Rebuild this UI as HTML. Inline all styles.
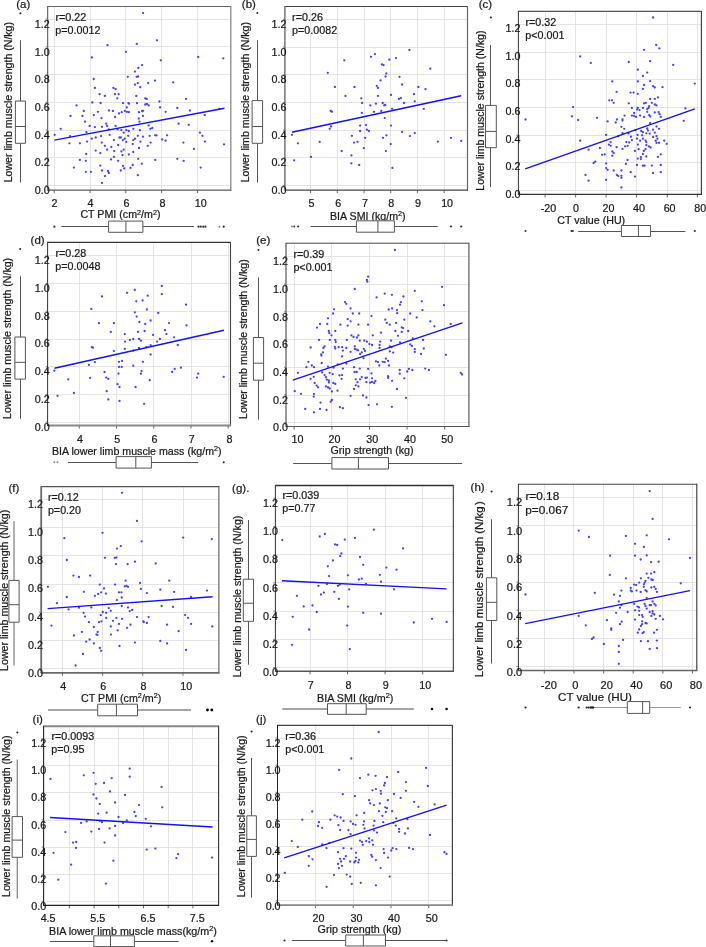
<!DOCTYPE html>
<html lang="en"><head><meta charset="utf-8"><title>Correlation of lower limb muscle strength with muscle indices</title>
<style>html,body{margin:0;padding:0;background:#fff}svg{display:block;will-change:transform}svg text{stroke:#1a1a1a;stroke-width:.22px}</style></head>
<body>
<svg width="706" height="947" viewBox="0 0 706 947" font-family="'Liberation Sans', Arial, sans-serif" fill="#1a1a1a">
<rect width="706" height="947" fill="#fff" stroke="none"/>
<g id="panel-a">
<path d="M47.6 185.5H230.8M47.6 157.5H230.8M47.6 130.5H230.8M47.6 102.5H230.8M47.6 74.5H230.8M47.6 46.5H230.8M47.6 19.5H230.8M54.5 6.5V190.2M90.5 6.5V190.2M125.5 6.5V190.2M161.5 6.5V190.2M197.5 6.5V190.2" stroke="#e4e4e4" stroke-width="1" fill="none"/>
<path d="M107.6 45.2h0M91.8 57.5h0M93.7 79.0h0M94.9 87.9h0M113.4 87.9h0M115.6 89.2h0M99.6 94.2h0M104.9 95.9h0M114.9 94.2h0M118.6 94.2h0M117.3 98.3h0M92.3 102.5h0M100.6 103.0h0M76.5 105.4h0M83.8 111.0h0M109.0 110.5h0M112.9 111.0h0M97.9 111.8h0M119.0 113.5h0M70.5 115.9h0M82.4 115.9h0M93.8 115.1h0M101.5 118.1h0M115.1 117.0h0M85.0 121.7h0M89.6 125.9h0M94.9 127.1h0M102.0 126.8h0M106.2 123.7h0M107.1 125.9h0M115.6 125.9h0M60.7 128.8h0M54.7 134.8h0M70.0 136.1h0M86.4 132.2h0M108.8 129.3h0M117.6 129.3h0M109.6 134.8h0M101.1 136.1h0M95.7 137.5h0M91.8 138.7h0M87.0 141.6h0M79.9 143.3h0M69.4 143.3h0M101.7 142.6h0M113.9 140.1h0M119.5 137.5h0M104.9 145.8h0M111.3 146.9h0M118.1 145.0h0M107.1 149.7h0M95.7 150.6h0M100.3 153.1h0M114.2 151.1h0M86.2 154.0h0M113.9 156.9h0M111.0 159.4h0M79.9 159.9h0M85.8 160.8h0M118.1 160.8h0M100.3 165.6h0M73.9 167.6h0M102.0 170.5h0M107.9 171.0h0M108.8 173.0h0M85.8 171.8h0M90.9 171.8h0M104.9 176.1h0M102.0 182.9h0M143.1 13.1h0M156.9 40.3h0M136.8 43.9h0M125.9 51.8h0M198.2 56.9h0M223.3 58.3h0M160.8 60.3h0M142.1 65.1h0M138.4 68.0h0M135.0 71.6h0M127.8 76.8h0M136.7 76.8h0M138.0 76.5h0M155.0 80.6h0M173.2 82.3h0M148.2 83.1h0M137.8 83.1h0M135.0 84.7h0M140.2 87.2h0M136.3 95.9h0M145.2 98.3h0M146.7 98.9h0M186.0 98.9h0M159.4 101.5h0M123.1 103.2h0M128.5 103.2h0M129.0 103.7h0M137.0 103.2h0M145.2 104.5h0M146.9 104.0h0M148.6 105.4h0M126.8 107.4h0M160.1 107.4h0M177.3 107.9h0M219.4 108.8h0M124.8 110.8h0M121.7 112.2h0M126.8 111.8h0M128.8 112.2h0M139.0 112.2h0M142.1 111.0h0M142.9 111.0h0M165.6 111.8h0M189.9 110.5h0M204.8 115.2h0M142.9 115.9h0M138.7 118.5h0M139.5 121.7h0M178.6 123.7h0M188.8 124.8h0M148.6 125.4h0M152.3 128.0h0M150.3 128.8h0M133.3 128.8h0M121.4 130.2h0M126.3 130.2h0M128.8 131.0h0M139.9 130.2h0M123.7 132.7h0M199.9 132.7h0M202.4 135.8h0M128.2 135.8h0M137.8 135.8h0M142.9 136.7h0M149.7 135.8h0M155.2 135.3h0M156.5 135.3h0M167.1 135.3h0M120.8 137.5h0M124.8 138.7h0M135.0 138.7h0M133.3 140.1h0M122.9 140.1h0M162.2 139.5h0M165.6 140.7h0M126.3 141.8h0M140.4 141.6h0M150.6 142.6h0M183.4 142.6h0M205.0 141.6h0M224.0 144.3h0M132.7 144.1h0M147.7 145.8h0M139.0 148.0h0M193.9 148.9h0M123.7 149.7h0M121.4 151.4h0M133.3 152.0h0M122.5 155.2h0M128.8 154.5h0M138.2 158.8h0M155.2 159.9h0M177.3 158.8h0M183.7 160.8h0M141.8 163.7h0M132.7 165.0h0M123.1 165.9h0M130.5 167.9h0M124.2 168.4h0M120.8 170.5h0M200.7 167.6h0M137.8 175.2h0" stroke="#2e2eff" stroke-width="2.3" stroke-linecap="round" fill="none" opacity="0.9"/>
<path d="M54.4 140.1L224.5 108.3" stroke="#1212f2" stroke-width="1.4" fill="none"/>
<path d="M47.6 6.5H230.8" stroke="#666" stroke-width="1.1" fill="none"/>
<path d="M230.8 6.0V190.8" stroke="#888" stroke-width="1.3" fill="none"/>
<path d="M54.2 190.2v3M90.0 190.2v3M125.8 190.2v3M161.6 190.2v3M197.4 190.2v3" stroke="#666" stroke-width="1" fill="none"/>
<path d="M47.6 185.6h-2M47.6 157.9h-2M47.6 130.1h-2M47.6 102.4h-2M47.6 74.7h-2M47.6 46.9h-2M47.6 19.2h-2" stroke="#777" stroke-width="1" fill="none"/>
<path d="M47.6 190.2H231.3" stroke="#5a5a5a" stroke-width="1.3" fill="none"/>
<path d="M47.6 6.0V190.8" stroke="#6c6c6c" stroke-width="1.3" fill="none"/>
<text transform="translate(49.7,193.9) scale(1.075,1)" font-size="10.0" text-anchor="end">0.0</text>
<text transform="translate(49.7,166.3) scale(1.075,1)" font-size="10.0" text-anchor="end">0.2</text>
<text transform="translate(49.7,138.6) scale(1.075,1)" font-size="10.0" text-anchor="end">0.4</text>
<text transform="translate(49.7,111.0) scale(1.075,1)" font-size="10.0" text-anchor="end">0.6</text>
<text transform="translate(49.7,83.4) scale(1.075,1)" font-size="10.0" text-anchor="end">0.8</text>
<text transform="translate(49.7,55.8) scale(1.075,1)" font-size="10.0" text-anchor="end">1.0</text>
<text transform="translate(49.7,28.2) scale(1.075,1)" font-size="10.0" text-anchor="end">1.2</text>
<text transform="translate(54.4,206.8) scale(1.075,1)" font-size="10.0" text-anchor="middle">2</text>
<text transform="translate(90.4,206.8) scale(1.075,1)" font-size="10.0" text-anchor="middle">4</text>
<text transform="translate(126.5,206.8) scale(1.075,1)" font-size="10.0" text-anchor="middle">6</text>
<text transform="translate(162.5,206.8) scale(1.075,1)" font-size="10.0" text-anchor="middle">8</text>
<text transform="translate(200.7,206.8) scale(1.075,1)" font-size="10.0" text-anchor="middle">10</text>
<text transform="translate(80.4,218.3) scale(1.0464,1)" font-size="10.2" text-anchor="start">CT PMI (cm<tspan font-size="6.94" dy="-3.67">2</tspan><tspan dy="3.67">/m</tspan><tspan font-size="6.94" dy="-3.67">2</tspan><tspan dy="3.67">)</tspan></text>
<text transform="translate(11.6,182.3) rotate(-90) scale(1.0379,1)" font-size="10.2" text-anchor="start">Lower limb muscle strength (N/kg)</text>
<text transform="translate(16.2,8.1) scale(1.075,1)" font-size="10.7" text-anchor="start">(a)</text>
<text transform="translate(55.4,21.2) scale(1.075,1)" font-size="10.0" text-anchor="start">r=0.22</text>
<text transform="translate(55.3,33.8) scale(1.075,1)" font-size="10.0" text-anchor="start">p=0.0012</text>
<path d="M20.5 40.3V101.0M20.5 143.3V182.6" stroke="#555" stroke-width="1.0" fill="none"/>
<path d="M15.4 101.0H25.4V143.3H15.4ZM15.4 126.5H25.4" stroke="#555" stroke-width="1" fill="#fff"/>
<circle cx="20.4" cy="13.3" r="1.0" fill="#222"/>
<path d="M61.2 226.5H108.6M142.9 226.5H193.9" stroke="#555" stroke-width="1.0" fill="none"/>
<path d="M108.6 221.1H142.9V232.3H108.6ZM125.9 221.1V232.3" stroke="#555" stroke-width="1" fill="#fff"/>
<circle cx="54.4" cy="226.7" r="1.10" fill="#333" opacity="1"/>
<circle cx="198.5" cy="226.7" r="1.10" fill="#333" opacity="1"/>
<circle cx="200.7" cy="226.7" r="1.10" fill="#333" opacity="1"/>
<circle cx="203.3" cy="226.7" r="1.10" fill="#333" opacity="1"/>
<circle cx="205.5" cy="226.7" r="1.10" fill="#333" opacity="1"/>
<circle cx="219.4" cy="226.7" r="0.94" fill="#333" opacity="0.6"/>
<circle cx="223.7" cy="226.7" r="1.10" fill="#333" opacity="1"/>
</g>
<g id="panel-b">
<path d="M284.9 185.5H467.5M284.9 157.5H467.5M284.9 130.5H467.5M284.9 102.5H467.5M284.9 74.5H467.5M284.9 47.5H467.5M284.9 19.5H467.5M310.5 6.5V190.2M337.5 6.5V190.2M364.5 6.5V190.2M390.5 6.5V190.2M417.5 6.5V190.2M444.5 6.5V190.2" stroke="#e4e4e4" stroke-width="1" fill="none"/>
<path d="M344.3 60.3h0M327.8 72.8h0M334.9 87.0h0M354.5 87.0h0M345.5 95.9h0M330.7 111.0h0M331.9 111.8h0M409.4 50.0h0M374.9 54.1h0M371.0 56.8h0M396.0 58.1h0M389.3 59.7h0M381.9 64.4h0M383.6 65.1h0M430.3 68.7h0M386.3 73.4h0M385.6 76.5h0M399.5 76.8h0M380.5 80.4h0M402.1 84.5h0M376.8 85.8h0M377.9 87.9h0M418.4 87.0h0M425.5 89.2h0M414.0 94.2h0M391.0 94.9h0M377.9 95.9h0M361.3 98.3h0M400.9 98.1h0M398.9 98.9h0M414.8 101.3h0M362.1 103.0h0M404.0 103.0h0M382.7 103.0h0M375.9 103.7h0M370.3 105.4h0M384.2 105.4h0M385.3 104.9h0M392.1 108.8h0M423.8 108.8h0M381.3 111.0h0M374.0 111.8h0M361.8 112.9h0M384.7 118.1h0M331.0 126.5h0M329.7 128.8h0M291.9 134.8h0M351.9 135.8h0M354.0 142.6h0M297.9 143.3h0M319.7 141.8h0M341.7 151.1h0M351.4 155.4h0M311.0 156.9h0M294.2 160.3h0M351.4 163.3h0M360.1 125.6h0M366.0 125.1h0M391.0 125.6h0M366.9 129.7h0M368.9 131.0h0M360.1 131.0h0M402.1 131.9h0M414.8 133.1h0M386.4 135.3h0M409.9 136.1h0M365.2 137.8h0M383.0 137.8h0M451.0 137.8h0M357.5 141.8h0M437.8 141.6h0M461.2 140.9h0M390.7 144.1h0M363.8 148.2h0M385.9 151.1h0M359.2 165.0h0M392.4 167.9h0" stroke="#2e2eff" stroke-width="2.3" stroke-linecap="round" fill="none" opacity="0.9"/>
<path d="M291.9 132.2L461.2 95.7" stroke="#1212f2" stroke-width="1.4" fill="none"/>
<path d="M284.9 6.5H467.5" stroke="#444" stroke-width="1.1" fill="none"/>
<path d="M467.5 6.0V190.7" stroke="#666" stroke-width="1.2" fill="none"/>
<path d="M310.6 190.2v3M337.3 190.2v3M364.0 190.2v3M390.7 190.2v3M417.4 190.2v3M444.1 190.2v3" stroke="#666" stroke-width="1" fill="none"/>
<path d="M284.9 185.7h-2M284.9 158.0h-2M284.9 130.2h-2M284.9 102.5h-2M284.9 74.8h-2M284.9 47.0h-2M284.9 19.3h-2" stroke="#777" stroke-width="1" fill="none"/>
<path d="M284.9 190.2H468.0" stroke="#444" stroke-width="1.2" fill="none"/>
<path d="M284.9 6.0V190.8" stroke="#555" stroke-width="1.2" fill="none"/>
<text transform="translate(286.4,193.9) scale(1.075,1)" font-size="10.0" text-anchor="end">0.0</text>
<text transform="translate(286.4,166.3) scale(1.075,1)" font-size="10.0" text-anchor="end">0.2</text>
<text transform="translate(286.4,138.6) scale(1.075,1)" font-size="10.0" text-anchor="end">0.4</text>
<text transform="translate(286.4,111.0) scale(1.075,1)" font-size="10.0" text-anchor="end">0.6</text>
<text transform="translate(286.4,83.4) scale(1.075,1)" font-size="10.0" text-anchor="end">0.8</text>
<text transform="translate(286.4,55.8) scale(1.075,1)" font-size="10.0" text-anchor="end">1.0</text>
<text transform="translate(286.4,28.2) scale(1.075,1)" font-size="10.0" text-anchor="end">1.2</text>
<text transform="translate(311.5,206.8) scale(1.075,1)" font-size="10.0" text-anchor="middle">5</text>
<text transform="translate(338.2,206.8) scale(1.075,1)" font-size="10.0" text-anchor="middle">6</text>
<text transform="translate(364.9,206.8) scale(1.075,1)" font-size="10.0" text-anchor="middle">7</text>
<text transform="translate(391.2,206.8) scale(1.075,1)" font-size="10.0" text-anchor="middle">8</text>
<text transform="translate(417.9,206.8) scale(1.075,1)" font-size="10.0" text-anchor="middle">9</text>
<text transform="translate(447.1,206.8) scale(1.075,1)" font-size="10.0" text-anchor="middle">10</text>
<text transform="translate(330.0,219.7) scale(1.0452,1)" font-size="10.2" text-anchor="start">BIA SMI (kg/m<tspan font-size="6.94" dy="-3.67">2</tspan><tspan dy="3.67">)</tspan></text>
<text transform="translate(248.6,182.3) rotate(-90) scale(1.0379,1)" font-size="10.2" text-anchor="start">Lower limb muscle strength (N/kg)</text>
<text transform="translate(241.8,8.3) scale(1.075,1)" font-size="10.7" text-anchor="start">(b)</text>
<text transform="translate(292.1,20.8) scale(1.075,1)" font-size="10.0" text-anchor="start">r=0.26</text>
<text transform="translate(292.0,33.6) scale(1.075,1)" font-size="10.0" text-anchor="start">p=0.0082</text>
<path d="M257.5 40.3V100.6M257.5 143.3V182.6" stroke="#555" stroke-width="1.0" fill="none"/>
<path d="M252.1 100.6H262.6V143.3H252.1ZM252.1 126.5H262.6" stroke="#555" stroke-width="1" fill="#fff"/>
<circle cx="257.3" cy="13.1" r="1.0" fill="#222"/>
<path d="M310.6 226.5H356.4M394.4 226.5H437.8" stroke="#555" stroke-width="1.0" fill="none"/>
<path d="M356.4 220.8H394.4V232.2H356.4ZM377.9 220.8V232.2" stroke="#555" stroke-width="1" fill="#fff"/>
<circle cx="291.9" cy="226.5" r="0.94" fill="#333" opacity="0.6"/>
<circle cx="294.2" cy="226.5" r="0.99" fill="#333" opacity="1"/>
<circle cx="298.2" cy="226.5" r="1.10" fill="#333" opacity="1"/>
<circle cx="451.0" cy="226.5" r="1.10" fill="#333" opacity="1"/>
<circle cx="461.2" cy="226.5" r="1.10" fill="#333" opacity="1"/>
</g>
<g id="panel-c">
<path d="M518.4 190.5H701.4M518.4 162.5H701.4M518.4 135.5H701.4M518.4 107.5H701.4M518.4 79.5H701.4M518.4 52.5H701.4M518.4 24.5H701.4M545.5 11.4V194.4M575.5 11.4V194.4M606.5 11.4V194.4M636.5 11.4V194.4M667.5 11.4V194.4M697.5 11.4V194.4" stroke="#e4e4e4" stroke-width="1" fill="none"/>
<path d="M580.2 56.4h0M573.1 107.1h0M571.9 116.4h0M525.5 119.5h0M578.2 120.0h0M653.1 17.5h0M656.2 44.9h0M659.4 48.4h0M644.1 49.8h0M650.1 61.2h0M628.8 62.0h0M590.8 62.9h0M673.2 64.9h0M637.8 69.7h0M647.2 72.6h0M642.9 76.0h0M612.3 81.4h0M637.8 81.4h0M650.1 81.1h0M694.8 83.6h0M644.1 85.0h0M653.1 86.2h0M654.8 87.5h0M662.5 87.2h0M642.9 88.9h0M616.6 91.8h0M630.5 92.6h0M633.6 92.6h0M637.8 93.8h0M657.9 97.4h0M650.1 98.9h0M654.8 98.9h0M609.3 100.3h0M612.0 100.3h0M613.7 102.8h0M628.8 103.3h0M644.1 103.3h0M645.8 102.8h0M651.8 102.8h0M654.8 104.5h0M656.5 105.4h0M649.2 106.2h0M631.9 107.9h0M637.8 107.9h0M642.9 107.9h0M648.6 107.9h0M685.4 108.4h0M637.0 109.6h0M639.5 110.1h0M647.2 109.1h0M647.2 111.8h0M634.1 113.0h0M654.8 112.5h0M658.6 112.2h0M659.6 114.2h0M631.9 115.6h0M634.1 115.9h0M636.1 116.9h0M640.1 115.6h0M644.1 116.9h0M649.2 115.2h0M650.3 116.4h0M624.6 115.6h0M660.8 116.9h0M597.0 117.8h0M616.9 119.5h0M622.5 119.5h0M580.2 140.7h0M585.5 174.9h0M607.6 121.4h0M615.7 122.5h0M622.5 120.5h0M650.1 123.1h0M683.7 120.8h0M621.4 126.8h0M624.2 128.8h0M635.3 130.2h0M656.5 126.5h0M659.1 128.8h0M653.1 129.7h0M647.2 128.5h0M648.0 130.5h0M641.2 131.0h0M642.9 132.2h0M646.3 133.3h0M649.7 133.6h0M654.8 132.7h0M622.5 133.1h0M628.5 133.6h0M637.5 135.0h0M642.1 135.3h0M606.1 135.0h0M618.3 136.1h0M631.0 136.7h0M653.1 137.0h0M656.5 136.1h0M637.0 138.7h0M642.9 138.7h0M657.4 138.7h0M631.9 140.1h0M640.1 140.7h0M645.5 140.4h0M655.7 140.7h0M664.2 140.7h0M610.6 142.1h0M626.3 142.1h0M629.3 142.4h0M646.3 142.1h0M656.5 142.9h0M659.1 142.9h0M666.7 143.8h0M608.9 144.6h0M610.6 145.8h0M637.8 144.6h0M646.3 145.2h0M625.1 146.3h0M627.6 145.8h0M648.9 146.3h0M650.6 147.5h0M599.9 148.0h0M616.6 147.2h0M622.5 148.9h0M588.5 149.7h0M638.7 149.2h0M645.5 149.2h0M635.0 150.9h0M643.8 150.9h0M612.3 151.4h0M613.7 153.1h0M642.9 154.0h0M602.1 154.8h0M604.7 154.3h0M612.3 155.7h0M660.8 154.3h0M646.3 156.5h0M640.9 157.1h0M657.9 156.9h0M637.8 158.6h0M640.9 159.1h0M627.6 159.9h0M595.3 161.6h0M593.6 163.0h0M606.1 163.3h0M625.9 163.9h0M637.0 165.0h0M642.9 165.6h0M644.6 165.6h0M651.8 165.6h0M660.8 165.0h0M606.1 168.1h0M607.6 169.8h0M613.7 170.5h0M621.4 170.5h0M630.7 172.2h0M660.8 172.2h0M653.1 173.0h0M616.9 174.9h0M618.3 176.1h0M621.4 175.8h0M621.4 177.8h0M635.0 176.6h0M588.5 180.7h0M606.1 179.8h0M621.4 187.5h0" stroke="#2e2eff" stroke-width="2.3" stroke-linecap="round" fill="none" opacity="0.9"/>
<path d="M525.2 168.8L694.8 108.8" stroke="#1212f2" stroke-width="1.4" fill="none"/>
<path d="M518.4 11.4H701.4" stroke="#555" stroke-width="1.2" fill="none"/>
<path d="M701.4 10.9V194.9" stroke="#444" stroke-width="1.2" fill="none"/>
<path d="M545.1 194.4v3M575.6 194.4v3M606.1 194.4v3M636.5 194.4v3M667.3 194.4v3M697.4 194.4v3" stroke="#666" stroke-width="1" fill="none"/>
<path d="M518.4 190.6h-2M518.4 162.9h-2M518.4 135.2h-2M518.4 107.5h-2M518.4 79.8h-2M518.4 52.1h-2M518.4 24.4h-2" stroke="#777" stroke-width="1" fill="none"/>
<path d="M518.4 194.4H701.9" stroke="#333" stroke-width="1.1" fill="none"/>
<path d="M518.4 10.9V195.0" stroke="#333" stroke-width="1.0" fill="none"/>
<text transform="translate(520.4,198.2) scale(1.075,1)" font-size="10.0" text-anchor="end">0.0</text>
<text transform="translate(520.4,170.4) scale(1.075,1)" font-size="10.0" text-anchor="end">0.2</text>
<text transform="translate(520.4,142.7) scale(1.075,1)" font-size="10.0" text-anchor="end">0.4</text>
<text transform="translate(520.4,115.0) scale(1.075,1)" font-size="10.0" text-anchor="end">0.6</text>
<text transform="translate(520.4,87.2) scale(1.075,1)" font-size="10.0" text-anchor="end">0.8</text>
<text transform="translate(520.4,59.5) scale(1.075,1)" font-size="10.0" text-anchor="end">1.0</text>
<text transform="translate(520.4,31.8) scale(1.075,1)" font-size="10.0" text-anchor="end">1.2</text>
<text transform="translate(548.5,211.5) scale(1.075,1)" font-size="10.0" text-anchor="middle">-20</text>
<text transform="translate(576.0,211.5) scale(1.075,1)" font-size="10.0" text-anchor="middle">0</text>
<text transform="translate(608.4,211.5) scale(1.075,1)" font-size="10.0" text-anchor="middle">20</text>
<text transform="translate(639.0,211.5) scale(1.075,1)" font-size="10.0" text-anchor="middle">40</text>
<text transform="translate(669.6,211.5) scale(1.075,1)" font-size="10.0" text-anchor="middle">60</text>
<text transform="translate(700.2,211.5) scale(1.075,1)" font-size="10.0" text-anchor="middle">80</text>
<text transform="translate(557.3,224.2) scale(1.045,1)" font-size="10.2" text-anchor="start">CT value (HU)</text>
<text transform="translate(483.9,190.7) rotate(-90) scale(1.0366,1)" font-size="10.2" text-anchor="start">Lower limb muscle strength (N/kg)</text>
<text transform="translate(478.7,8.1) scale(1.075,1)" font-size="10.7" text-anchor="start">(c)</text>
<text transform="translate(525.4,25.6) scale(1.075,1)" font-size="10.0" text-anchor="start">r=0.32</text>
<text transform="translate(525.3,38.7) scale(1.075,1)" font-size="10.0" text-anchor="start">p<0.001</text>
<path d="M490.5 45.0V105.4M490.5 147.7V187.1" stroke="#555" stroke-width="1.0" fill="none"/>
<path d="M485.5 105.4H496.3V147.7H485.5ZM485.5 131.4H496.3" stroke="#555" stroke-width="1" fill="#fff"/>
<circle cx="490.9" cy="17.5" r="1.0" fill="#222"/>
<path d="M578.2 231.5H621.4M650.6 231.5H685.4" stroke="#555" stroke-width="1.0" fill="none"/>
<path d="M621.4 225.5H650.6V236.5H621.4ZM638.4 225.5V236.5" stroke="#555" stroke-width="1" fill="#fff"/>
<circle cx="525.5" cy="231.0" r="0.99" fill="#333" opacity="1"/>
<circle cx="571.5" cy="231.0" r="1.10" fill="#333" opacity="1"/>
<circle cx="572.8" cy="231.0" r="1.10" fill="#333" opacity="1"/>
<circle cx="694.8" cy="231.0" r="1.10" fill="#333" opacity="1"/>
</g>
<g id="panel-d">
<path d="M47.6 422.5H230.5M47.6 394.5H230.5M47.6 366.5H230.5M47.6 339.5H230.5M47.6 311.5H230.5M47.6 283.5H230.5M47.6 255.5H230.5M79.5 242.3V425.5M116.5 242.3V425.5M153.5 242.3V425.5M191.5 242.3V425.5M228.5 242.3V425.5" stroke="#e4e4e4" stroke-width="1" fill="none"/>
<path d="M102.0 296.5h0M91.3 308.9h0M98.9 323.2h0M113.9 323.2h0M110.8 331.9h0M91.8 347.2h0M93.0 347.7h0M113.9 351.1h0M161.8 286.0h0M134.8 289.9h0M127.1 292.8h0M161.8 294.2h0M147.7 295.7h0M142.6 300.4h0M136.3 301.3h0M186.0 304.7h0M146.9 309.5h0M134.8 312.3h0M158.2 312.9h0M136.7 316.6h0M150.6 320.5h0M139.4 322.0h0M145.2 323.9h0M169.0 323.1h0M186.5 325.4h0M165.0 330.2h0M144.6 331.0h0M138.0 331.9h0M124.8 334.1h0M166.4 334.1h0M153.1 334.9h0M174.1 337.3h0M133.3 339.0h0M129.9 339.9h0M139.0 339.0h0M159.9 339.0h0M125.1 341.6h0M140.9 340.7h0M157.1 341.6h0M150.6 345.1h0M177.8 345.0h0M146.3 347.2h0M139.0 348.0h0M124.8 348.9h0M133.3 350.6h0M150.6 354.5h0M94.9 362.1h0M88.9 364.9h0M119.0 361.8h0M119.0 366.9h0M54.4 370.6h0M104.5 372.0h0M118.5 373.7h0M68.3 379.3h0M90.1 377.9h0M106.2 377.6h0M108.3 378.8h0M117.6 384.2h0M119.5 387.0h0M106.7 391.2h0M73.9 392.9h0M57.5 395.8h0M108.3 399.5h0M119.5 400.9h0M122.0 360.9h0M142.9 361.8h0M121.7 366.9h0M133.3 365.7h0M180.9 367.7h0M174.7 368.9h0M172.2 372.0h0M141.6 371.1h0M140.9 373.7h0M198.2 373.7h0M197.0 377.6h0M223.7 376.8h0M149.7 380.2h0M135.6 387.0h0M144.1 403.8h0" stroke="#2e2eff" stroke-width="2.3" stroke-linecap="round" fill="none" opacity="0.9"/>
<path d="M54.4 368.3L224.0 330.2" stroke="#1212f2" stroke-width="1.4" fill="none"/>
<path d="M47.6 242.3H230.5" stroke="#333" stroke-width="1.2" fill="none"/>
<path d="M230.5 241.8V426.0" stroke="#444" stroke-width="1.1" fill="none"/>
<path d="M79.3 425.5v3M116.5 425.5v3M153.7 425.5v3M191.0 425.5v3M228.2 425.5v3" stroke="#666" stroke-width="1" fill="none"/>
<path d="M47.6 422.1h-2M47.6 394.4h-2M47.6 366.7h-2M47.6 339.0h-2M47.6 311.3h-2M47.6 283.6h-2M47.6 255.9h-2" stroke="#777" stroke-width="1" fill="none"/>
<path d="M47.6 425.5H231.0" stroke="#888" stroke-width="1.8" fill="none"/>
<path d="M47.6 241.8V426.1" stroke="#333" stroke-width="1.0" fill="none"/>
<text transform="translate(49.7,430.5) scale(1.075,1)" font-size="10.0" text-anchor="end">0.0</text>
<text transform="translate(49.7,402.7) scale(1.075,1)" font-size="10.0" text-anchor="end">0.2</text>
<text transform="translate(49.7,375.0) scale(1.075,1)" font-size="10.0" text-anchor="end">0.4</text>
<text transform="translate(49.7,347.3) scale(1.075,1)" font-size="10.0" text-anchor="end">0.6</text>
<text transform="translate(49.7,319.5) scale(1.075,1)" font-size="10.0" text-anchor="end">0.8</text>
<text transform="translate(49.7,291.8) scale(1.075,1)" font-size="10.0" text-anchor="end">1.0</text>
<text transform="translate(49.7,264.1) scale(1.075,1)" font-size="10.0" text-anchor="end">1.2</text>
<text transform="translate(79.9,442.6) scale(1.075,1)" font-size="10.0" text-anchor="middle">4</text>
<text transform="translate(117.3,442.6) scale(1.075,1)" font-size="10.0" text-anchor="middle">5</text>
<text transform="translate(154.5,442.6) scale(1.075,1)" font-size="10.0" text-anchor="middle">6</text>
<text transform="translate(191.7,442.6) scale(1.075,1)" font-size="10.0" text-anchor="middle">7</text>
<text transform="translate(229.6,442.6) scale(1.075,1)" font-size="10.0" text-anchor="middle">8</text>
<text transform="translate(51.9,455.0) scale(1.0447,1)" font-size="10.2" text-anchor="start">BIA lower limb muscle mass (kg/m<tspan font-size="6.94" dy="-3.67">2</tspan><tspan dy="3.67">)</tspan></text>
<text transform="translate(11.1,418.9) rotate(-90) scale(1.0411,1)" font-size="10.2" text-anchor="start">Lower limb muscle strength (N/kg)</text>
<text transform="translate(30.6,243.6) scale(1.075,1)" font-size="10.7" text-anchor="start">(d)</text>
<text transform="translate(55.4,257.2) scale(1.075,1)" font-size="10.0" text-anchor="start">r=0.28</text>
<text transform="translate(55.3,269.9) scale(1.075,1)" font-size="10.0" text-anchor="start">p=0.0048</text>
<path d="M20.5 276.3V337.0M20.5 379.1V418.7" stroke="#555" stroke-width="1.0" fill="none"/>
<path d="M14.9 337.0H25.4V379.1H14.9ZM14.9 362.3H25.4" stroke="#555" stroke-width="1" fill="#fff"/>
<circle cx="20.2" cy="249.1" r="1.0" fill="#222"/>
<path d="M68.0 462.5H116.1M151.4 462.5H198.2" stroke="#555" stroke-width="1.0" fill="none"/>
<path d="M116.1 456.6H151.4V468.1H116.1ZM135.8 456.6V468.1" stroke="#555" stroke-width="1" fill="#fff"/>
<circle cx="54.4" cy="462.3" r="0.94" fill="#333" opacity="0.6"/>
<circle cx="57.5" cy="462.3" r="0.94" fill="#333" opacity="0.6"/>
<circle cx="223.7" cy="462.3" r="1.10" fill="#333" opacity="1"/>
</g>
<g id="panel-e">
<path d="M286.0 422.5H468.9M286.0 395.5H468.9M286.0 367.5H468.9M286.0 339.5H468.9M286.0 311.5H468.9M286.0 284.5H468.9M286.0 256.5H468.9M294.5 243.2V426.5M331.5 243.2V426.5M369.5 243.2V426.5M407.5 243.2V426.5M444.5 243.2V426.5" stroke="#e4e4e4" stroke-width="1" fill="none"/>
<path d="M354.8 289.0h0M345.0 302.1h0M346.3 303.8h0M334.1 309.3h0M350.6 308.4h0M333.1 313.5h0M352.8 313.5h0M328.0 318.3h0M347.7 319.1h0M350.6 321.3h0M320.0 323.9h0M327.3 323.9h0M340.4 324.7h0M347.7 325.6h0M316.9 327.6h0M328.8 331.0h0M329.3 333.2h0M335.3 331.0h0M331.5 335.3h0M351.4 335.3h0M353.5 337.0h0M319.1 339.9h0M329.8 339.9h0M335.3 339.9h0M335.8 342.1h0M346.8 339.9h0M310.6 347.5h0M324.6 346.3h0M323.4 348.0h0M334.8 346.8h0M335.3 348.5h0M338.7 347.2h0M342.1 347.2h0M342.9 350.6h0M346.3 348.0h0M354.8 346.3h0M354.8 348.9h0M350.6 351.8h0M322.9 352.3h0M321.2 354.5h0M394.9 250.0h0M368.1 276.6h0M366.9 280.0h0M367.4 281.7h0M442.0 286.8h0M414.8 290.8h0M384.7 293.6h0M391.9 294.8h0M403.4 296.5h0M376.6 297.4h0M421.8 301.3h0M400.9 302.1h0M400.0 304.7h0M443.9 305.2h0M392.1 308.4h0M388.7 309.5h0M397.0 310.1h0M422.5 310.1h0M397.2 313.2h0M359.2 313.5h0M410.2 313.5h0M371.5 316.1h0M416.7 317.4h0M385.3 319.7h0M404.3 319.7h0M430.3 321.4h0M386.8 322.9h0M396.1 322.9h0M450.7 323.9h0M358.4 324.7h0M368.1 324.7h0M389.8 324.7h0M434.4 326.3h0M401.7 327.3h0M403.1 328.1h0M395.3 331.0h0M408.2 331.0h0M401.7 331.9h0M381.0 332.7h0M358.4 335.3h0M372.8 335.3h0M398.0 335.8h0M357.0 337.5h0M412.8 338.3h0M359.8 340.7h0M364.3 340.7h0M366.9 341.7h0M380.2 341.6h0M391.0 340.7h0M400.0 342.4h0M423.0 340.0h0M369.4 344.1h0M372.0 345.0h0M379.6 345.0h0M410.2 344.3h0M389.8 346.3h0M391.5 347.2h0M411.9 346.0h0M379.6 348.0h0M363.8 348.9h0M356.7 349.7h0M358.1 350.3h0M364.9 350.9h0M414.8 349.2h0M423.8 348.5h0M389.8 351.4h0M393.2 352.6h0M414.8 351.9h0M361.8 352.3h0M421.0 354.0h0M360.1 354.0h0M445.9 354.8h0M342.1 356.4h0M321.4 355.5h0M308.4 361.8h0M321.7 363.0h0M337.8 364.3h0M346.3 363.5h0M311.8 365.5h0M306.4 367.2h0M314.0 367.2h0M328.0 366.6h0M333.6 367.7h0M342.9 368.6h0M354.0 367.2h0M297.9 372.8h0M322.2 372.5h0M329.7 372.8h0M332.7 374.2h0M354.5 372.0h0M324.6 375.1h0M325.9 377.1h0M339.5 375.4h0M342.1 375.1h0M313.7 376.8h0M310.6 378.8h0M341.6 378.8h0M326.8 379.6h0M328.8 380.5h0M329.0 382.5h0M314.6 383.0h0M333.3 383.0h0M335.3 383.9h0M316.6 385.6h0M318.0 387.3h0M325.9 386.4h0M328.0 387.3h0M329.7 388.5h0M294.8 391.2h0M331.9 391.5h0M337.5 390.7h0M354.0 389.0h0M301.0 393.8h0M314.0 394.1h0M313.7 396.6h0M350.6 395.8h0M331.9 400.0h0M330.7 401.7h0M320.5 402.6h0M339.9 407.2h0M342.9 408.2h0M305.2 408.9h0M320.0 408.9h0M326.5 409.9h0M314.0 412.3h0M363.5 358.1h0M385.9 358.7h0M388.1 360.9h0M375.9 361.3h0M377.9 362.1h0M382.7 361.8h0M384.7 362.1h0M379.3 365.5h0M389.0 365.5h0M359.8 368.6h0M368.1 368.9h0M399.7 370.0h0M408.9 368.9h0M412.3 370.0h0M425.2 368.6h0M428.9 370.0h0M407.2 371.5h0M356.7 372.0h0M371.5 373.4h0M399.7 373.7h0M460.7 372.8h0M462.1 374.5h0M388.1 376.2h0M388.1 377.9h0M361.8 377.1h0M365.5 377.9h0M366.9 377.6h0M372.0 378.3h0M404.3 378.3h0M355.8 379.3h0M360.1 379.3h0M375.4 381.0h0M392.1 380.8h0M366.4 382.2h0M370.0 382.7h0M372.0 381.9h0M374.2 383.0h0M357.5 382.2h0M355.8 385.3h0M358.4 386.4h0M397.0 389.0h0M363.0 395.5h0M366.4 397.5h0M406.0 397.8h0M368.6 405.1h0M377.1 404.3h0M391.9 406.8h0" stroke="#2e2eff" stroke-width="2.3" stroke-linecap="round" fill="none" opacity="0.9"/>
<path d="M292.8 380.2L462.4 322.9" stroke="#1212f2" stroke-width="1.4" fill="none"/>
<path d="M286.0 243.2H468.9" stroke="#444" stroke-width="1.0" fill="none"/>
<path d="M468.9 242.7V427.0" stroke="#666" stroke-width="1.3" fill="none"/>
<path d="M294.2 426.5v3M331.9 426.5v3M369.5 426.5v3M407.1 426.5v3M444.7 426.5v3" stroke="#666" stroke-width="1" fill="none"/>
<path d="M286.0 422.7h-2M286.0 395.0h-2M286.0 367.3h-2M286.0 339.6h-2M286.0 311.9h-2M286.0 284.2h-2M286.0 256.5h-2" stroke="#777" stroke-width="1" fill="none"/>
<path d="M286.0 426.5H469.4" stroke="#555" stroke-width="1.2" fill="none"/>
<path d="M286.0 242.7V427.1" stroke="#555" stroke-width="1.2" fill="none"/>
<text transform="translate(288.0,431.4) scale(1.075,1)" font-size="10.0" text-anchor="end">0.0</text>
<text transform="translate(288.0,403.7) scale(1.075,1)" font-size="10.0" text-anchor="end">0.2</text>
<text transform="translate(288.0,376.0) scale(1.075,1)" font-size="10.0" text-anchor="end">0.4</text>
<text transform="translate(288.0,348.3) scale(1.075,1)" font-size="10.0" text-anchor="end">0.6</text>
<text transform="translate(288.0,320.6) scale(1.075,1)" font-size="10.0" text-anchor="end">0.8</text>
<text transform="translate(288.0,293.0) scale(1.075,1)" font-size="10.0" text-anchor="end">1.0</text>
<text transform="translate(288.0,265.3) scale(1.075,1)" font-size="10.0" text-anchor="end">1.2</text>
<text transform="translate(297.4,443.0) scale(1.075,1)" font-size="10.0" text-anchor="middle">10</text>
<text transform="translate(334.4,443.0) scale(1.075,1)" font-size="10.0" text-anchor="middle">20</text>
<text transform="translate(372.3,443.0) scale(1.075,1)" font-size="10.0" text-anchor="middle">30</text>
<text transform="translate(409.9,443.0) scale(1.075,1)" font-size="10.0" text-anchor="middle">40</text>
<text transform="translate(447.3,443.0) scale(1.075,1)" font-size="10.0" text-anchor="middle">50</text>
<text transform="translate(330.5,453.7) scale(1.0472,1)" font-size="10.2" text-anchor="start">Grip strength (kg)</text>
<text transform="translate(247.4,418.9) rotate(-90) scale(1.0321,1)" font-size="10.2" text-anchor="start">Lower limb muscle strength (N/kg)</text>
<text transform="translate(256.2,243.6) scale(1.075,1)" font-size="10.7" text-anchor="start">(e)</text>
<text transform="translate(293.5,257.5) scale(1.075,1)" font-size="10.0" text-anchor="start">r=0.39</text>
<text transform="translate(293.4,270.6) scale(1.075,1)" font-size="10.0" text-anchor="start">p<0.001</text>
<path d="M258.5 277.5V337.5M258.5 380.2V419.6" stroke="#555" stroke-width="1.0" fill="none"/>
<path d="M253.4 337.5H263.6V380.2H253.4ZM253.4 363.2H263.6" stroke="#555" stroke-width="1" fill="#fff"/>
<circle cx="258.5" cy="250.0" r="1.0" fill="#222"/>
<path d="M293.1 463.5H331.9M388.5 463.5H462.1" stroke="#555" stroke-width="1.0" fill="none"/>
<path d="M331.9 457.6H388.5V469.0H331.9ZM358.4 457.6V469.0" stroke="#555" stroke-width="1" fill="#fff"/>
</g>
<g id="panel-f">
<path d="M41.2 668.5H218.9M41.2 640.5H218.9M41.2 612.5H218.9M41.2 584.5H218.9M41.2 555.5H218.9M41.2 527.5H218.9M41.2 499.5H218.9M62.5 486.6V672.8M102.5 486.6V672.8M142.5 486.6V672.8M183.5 486.6V672.8" stroke="#e4e4e4" stroke-width="1" fill="none"/>
<path d="M102.5 532.8h0M64.3 538.2h0M116.9 548.6h0M104.9 557.8h0M114.7 557.8h0M116.4 557.4h0M66.8 560.0h0M115.9 564.2h0M73.4 575.6h0M79.0 577.0h0M90.1 575.6h0M99.8 584.6h0M115.1 584.6h0M47.9 586.8h0M104.0 588.5h0M83.8 591.8h0M101.1 592.3h0M98.1 594.0h0M105.9 593.6h0M119.0 592.3h0M122.0 492.8h0M137.0 520.9h0M183.2 537.6h0M211.8 539.1h0M141.6 541.3h0M120.8 546.1h0M135.0 561.7h0M127.6 564.2h0M155.7 563.4h0M125.6 580.7h0M140.1 582.9h0M169.3 580.7h0M124.8 586.3h0M126.5 585.8h0M128.0 586.8h0M140.9 588.9h0M160.3 589.7h0M207.0 590.6h0M121.4 592.3h0M146.9 593.1h0M174.1 591.9h0M66.8 597.0h0M94.9 595.8h0M56.9 603.2h0M116.9 600.1h0M68.5 609.4h0M79.0 607.7h0M91.3 607.4h0M108.8 608.1h0M110.8 610.8h0M83.6 612.8h0M102.8 612.0h0M106.2 612.8h0M100.8 615.1h0M85.0 616.6h0M106.2 617.9h0M116.4 617.9h0M88.9 622.2h0M99.1 622.2h0M101.5 621.3h0M113.0 620.8h0M119.0 623.9h0M51.5 625.6h0M93.8 627.0h0M110.8 626.4h0M117.6 630.4h0M81.9 631.9h0M97.7 631.9h0M96.5 634.4h0M97.4 634.9h0M111.0 634.6h0M73.9 635.5h0M89.6 639.5h0M86.2 641.7h0M93.8 643.4h0M119.5 646.0h0M99.8 648.0h0M101.1 650.8h0M83.0 654.0h0M75.6 665.5h0M191.1 597.0h0M121.7 597.5h0M121.7 606.0h0M128.0 607.4h0M161.6 606.0h0M173.0 606.9h0M129.7 611.1h0M132.2 610.0h0M185.1 615.1h0M137.0 617.1h0M148.6 617.1h0M188.0 617.9h0M122.0 618.8h0M143.3 621.3h0M143.8 622.2h0M146.9 623.0h0M191.1 623.9h0M130.5 624.7h0M167.1 624.7h0M212.3 626.4h0M127.1 627.8h0M178.6 631.2h0M160.3 640.9h0M135.0 642.6h0M167.1 643.4h0M186.0 649.9h0" stroke="#2e2eff" stroke-width="2.3" stroke-linecap="round" fill="none" opacity="0.9"/>
<path d="M47.6 608.6L212.6 596.7" stroke="#1212f2" stroke-width="1.4" fill="none"/>
<path d="M41.2 486.6H218.9" stroke="#555" stroke-width="1.2" fill="none"/>
<path d="M218.9 486.1V673.3" stroke="#555" stroke-width="1.1" fill="none"/>
<path d="M62.4 672.8v3M102.6 672.8v3M142.8 672.8v3M183.0 672.8v3" stroke="#666" stroke-width="1" fill="none"/>
<path d="M41.2 668.6h-2M41.2 640.4h-2M41.2 612.2h-2M41.2 584.0h-2M41.2 555.8h-2M41.2 527.6h-2M41.2 499.4h-2" stroke="#777" stroke-width="1" fill="none"/>
<path d="M41.2 672.8H219.4" stroke="#6a6a6a" stroke-width="1.7" fill="none"/>
<path d="M41.2 486.1V673.4" stroke="#6a6a6a" stroke-width="1.8" fill="none"/>
<text transform="translate(42.9,677.1) scale(1.075,1)" font-size="10.0" text-anchor="end">0.0</text>
<text transform="translate(42.9,648.9) scale(1.075,1)" font-size="10.0" text-anchor="end">0.2</text>
<text transform="translate(42.9,620.6) scale(1.075,1)" font-size="10.0" text-anchor="end">0.4</text>
<text transform="translate(42.9,592.4) scale(1.075,1)" font-size="10.0" text-anchor="end">0.6</text>
<text transform="translate(42.9,564.2) scale(1.075,1)" font-size="10.0" text-anchor="end">0.8</text>
<text transform="translate(42.9,536.0) scale(1.075,1)" font-size="10.0" text-anchor="end">1.0</text>
<text transform="translate(42.9,507.8) scale(1.075,1)" font-size="10.0" text-anchor="end">1.2</text>
<text transform="translate(63.2,690.3) scale(1.075,1)" font-size="10.0" text-anchor="middle">4</text>
<text transform="translate(103.2,690.3) scale(1.075,1)" font-size="10.0" text-anchor="middle">6</text>
<text transform="translate(143.5,690.3) scale(1.075,1)" font-size="10.0" text-anchor="middle">8</text>
<text transform="translate(186.3,690.3) scale(1.075,1)" font-size="10.0" text-anchor="middle">10</text>
<text transform="translate(81.1,701.9) scale(1.0477,1)" font-size="10.2" text-anchor="start">CT PMI (cm<tspan font-size="6.94" dy="-3.67">2</tspan><tspan dy="3.67">/m</tspan><tspan font-size="6.94" dy="-3.67">2</tspan><tspan dy="3.67">)</tspan></text>
<text transform="translate(7.5,670.9) rotate(-90) scale(1.0431,1)" font-size="10.2" text-anchor="start">Lower limb muscle strength (N/kg)</text>
<text transform="translate(8.5,491.6) scale(1.075,1)" font-size="10.7" text-anchor="start">(f)</text>
<text transform="translate(48.0,500.6) scale(1.075,1)" font-size="10.0" text-anchor="start">r=0.12</text>
<text transform="translate(47.9,514.2) scale(1.075,1)" font-size="10.0" text-anchor="start">p=0.20</text>
<path d="M14.0 520.9V580.4M14.0 622.2V665.5" stroke="#888" stroke-width="1.3" fill="none"/>
<path d="M8.9 580.4H19.1V622.2H8.9ZM8.9 604.7H19.1" stroke="#555" stroke-width="1" fill="#fff"/>
<path d="M47.9 710.0H97.7M137.5 710.0H191.1" stroke="#888" stroke-width="1.3" fill="none"/>
<path d="M97.7 704.2H137.5V715.8H97.7ZM116.4 704.2V715.8" stroke="#555" stroke-width="1" fill="#fff"/>
<circle cx="207.5" cy="710.0" r="1.43" fill="#000" opacity="1"/>
<circle cx="211.8" cy="710.0" r="1.43" fill="#000" opacity="1"/>
</g>
<g id="panel-g">
<path d="M275.4 667.5H453.4M275.4 639.5H453.4M275.4 611.5H453.4M275.4 582.5H453.4M275.4 554.5H453.4M275.4 526.5H453.4M275.4 498.5H453.4M310.5 485.5V671.3M347.5 485.5V671.3M385.5 485.5V671.3M422.5 485.5V671.3" stroke="#e4e4e4" stroke-width="1" fill="none"/>
<path d="M324.9 534.0h0M319.7 536.5h0M282.3 540.1h0M335.1 544.4h0M337.2 545.0h0M344.8 539.6h0M341.4 553.5h0M340.2 556.1h0M332.9 560.5h0M327.8 566.3h0M329.0 576.1h0M327.0 584.1h0M318.5 585.8h0M338.0 585.8h0M339.7 584.6h0M334.3 591.8h0M323.9 592.6h0M321.0 594.5h0M373.9 529.7h0M354.9 537.9h0M403.1 548.4h0M360.0 556.9h0M363.2 564.8h0M386.3 567.6h0M396.5 569.7h0M379.8 574.8h0M347.9 575.3h0M361.7 578.7h0M358.9 579.5h0M381.0 581.7h0M365.9 583.8h0M349.2 589.4h0M394.0 589.4h0M296.9 595.8h0M338.9 598.9h0M303.7 606.4h0M312.5 605.5h0M316.8 612.0h0M292.7 616.8h0M309.1 629.5h0M292.1 644.8h0M347.9 606.6h0M363.2 612.8h0M381.0 613.7h0M413.8 622.5h0M432.0 618.8h0M446.6 621.9h0M347.2 625.6h0M349.8 649.1h0" stroke="#2e2eff" stroke-width="2.3" stroke-linecap="round" fill="none" opacity="0.9"/>
<path d="M281.9 580.7L446.6 588.9" stroke="#1212f2" stroke-width="1.4" fill="none"/>
<path d="M275.4 485.5H453.4" stroke="#333" stroke-width="1.3" fill="none"/>
<path d="M453.4 485.0V671.8" stroke="#555" stroke-width="1.3" fill="none"/>
<path d="M310.0 671.3v3M347.5 671.3v3M385.1 671.3v3M422.7 671.3v3" stroke="#666" stroke-width="1" fill="none"/>
<path d="M275.4 667.6h-2M275.4 639.4h-2M275.4 611.1h-2M275.4 582.9h-2M275.4 554.7h-2M275.4 526.5h-2M275.4 498.2h-2" stroke="#777" stroke-width="1" fill="none"/>
<path d="M275.4 671.3H453.9" stroke="#555" stroke-width="1.4" fill="none"/>
<path d="M275.4 485.0V671.9" stroke="#333" stroke-width="1.0" fill="none"/>
<text transform="translate(277.9,676.3) scale(1.075,1)" font-size="10.0" text-anchor="end">0.0</text>
<text transform="translate(277.9,648.1) scale(1.075,1)" font-size="10.0" text-anchor="end">0.2</text>
<text transform="translate(277.9,619.8) scale(1.075,1)" font-size="10.0" text-anchor="end">0.4</text>
<text transform="translate(277.9,591.6) scale(1.075,1)" font-size="10.0" text-anchor="end">0.6</text>
<text transform="translate(277.9,563.4) scale(1.075,1)" font-size="10.0" text-anchor="end">0.8</text>
<text transform="translate(277.9,535.2) scale(1.075,1)" font-size="10.0" text-anchor="end">1.0</text>
<text transform="translate(277.9,507.0) scale(1.075,1)" font-size="10.0" text-anchor="end">1.2</text>
<text transform="translate(310.8,688.6) scale(1.075,1)" font-size="10.0" text-anchor="middle">7</text>
<text transform="translate(348.4,688.6) scale(1.075,1)" font-size="10.0" text-anchor="middle">8</text>
<text transform="translate(385.8,688.6) scale(1.075,1)" font-size="10.0" text-anchor="middle">9</text>
<text transform="translate(425.2,688.6) scale(1.075,1)" font-size="10.0" text-anchor="middle">10</text>
<text transform="translate(317.1,701.8) scale(1.0548,1)" font-size="10.2" text-anchor="start">BIA SMI (kg/m<tspan font-size="6.94" dy="-3.67">2</tspan><tspan dy="3.67">)</tspan></text>
<text transform="translate(240.8,677.2) rotate(-90) scale(1.045,1)" font-size="10.2" text-anchor="start">Lower limb muscle strength (N/kg)</text>
<text transform="translate(232.1,491.6) scale(1.075,1)" font-size="10.7" text-anchor="start">(g).</text>
<text transform="translate(282.4,499.2) scale(1.075,1)" font-size="10.0" text-anchor="start">r=0.039</text>
<text transform="translate(282.3,512.2) scale(1.075,1)" font-size="10.0" text-anchor="start">p=0.77</text>
<path d="M248.5 520.0V579.2M248.5 621.3V664.7" stroke="#555" stroke-width="1.0" fill="none"/>
<path d="M243.3 579.2H253.5V621.3H243.3ZM243.3 603.2H253.5" stroke="#555" stroke-width="1" fill="#fff"/>
<path d="M282.3 709.0H327.5M366.2 709.0H413.8" stroke="#888" stroke-width="1.3" fill="none"/>
<path d="M327.5 703.7H366.2V714.3H327.5ZM346.2 703.7V714.3" stroke="#555" stroke-width="1" fill="#fff"/>
<circle cx="432.0" cy="709.0" r="1.32" fill="#111" opacity="1"/>
<circle cx="446.6" cy="709.0" r="1.32" fill="#111" opacity="1"/>
</g>
<g id="panel-h">
<path d="M518.4 666.5H696.8M518.4 638.5H696.8M518.4 610.5H696.8M518.4 582.5H696.8M518.4 554.5H696.8M518.4 525.5H696.8M518.4 497.5H696.8M544.5 484.3V670.5M573.5 484.3V670.5M603.5 484.3V670.5M633.5 484.3V670.5M662.5 484.3V670.5M692.5 484.3V670.5" stroke="#e4e4e4" stroke-width="1" fill="none"/>
<path d="M578.7 530.6h0M525.5 594.5h0M649.7 491.1h0M652.6 518.9h0M646.7 535.3h0M625.9 535.9h0M588.9 537.0h0M669.0 539.3h0M635.0 543.8h0M643.8 546.9h0M610.1 555.7h0M635.0 555.7h0M646.7 555.4h0M690.0 558.0h0M640.7 559.5h0M651.1 562.2h0M658.6 561.7h0M654.3 572.2h0M646.7 573.6h0M651.1 573.6h0M609.8 574.9h0M625.9 578.3h0M640.9 578.3h0M648.4 577.8h0M651.4 579.5h0M652.8 580.0h0M645.5 580.9h0M639.2 582.6h0M644.6 582.6h0M680.8 583.3h0M634.1 584.6h0M636.1 585.1h0M643.8 584.3h0M643.8 586.8h0M630.7 588.0h0M651.4 587.5h0M654.3 586.8h0M655.7 588.9h0M621.4 590.6h0M630.7 590.6h0M631.9 591.4h0M636.5 590.6h0M640.7 591.9h0M645.5 590.2h0M646.7 591.4h0M656.9 591.9h0M594.8 592.8h0M614.0 594.7h0M578.7 615.9h0M585.8 625.3h0M620.0 595.8h0M646.7 598.1h0M618.8 601.5h0M652.6 601.5h0M634.1 603.8h0M644.6 603.8h0M621.4 604.9h0M649.7 605.2h0M651.1 605.2h0M654.3 603.8h0M655.7 605.5h0M645.5 606.0h0M637.5 606.6h0M639.0 607.4h0M620.0 607.7h0M646.7 608.6h0M635.0 610.3h0M639.2 610.8h0M627.6 612.0h0M616.1 612.8h0M649.7 612.0h0M652.6 611.1h0M652.6 613.4h0M654.3 614.5h0M639.2 615.1h0M642.1 615.1h0M642.6 616.8h0M651.4 615.9h0M659.9 615.9h0M655.7 618.8h0M663.0 619.3h0M606.9 620.2h0M635.0 619.6h0M642.1 621.3h0M621.7 621.7h0M645.5 623.0h0M646.7 623.4h0M620.0 624.2h0M642.1 624.2h0M640.9 625.9h0M611.2 628.5h0M611.2 629.8h0M639.2 629.5h0M656.9 629.8h0M637.8 632.7h0M642.6 633.2h0M643.8 632.1h0M654.0 632.7h0M593.6 637.5h0M591.9 638.9h0M623.1 640.0h0M640.9 641.2h0M648.0 641.2h0M656.9 640.6h0M603.8 644.0h0M618.8 646.0h0M649.7 648.9h0M656.9 648.2h0M618.8 651.9h0M618.8 663.8h0" stroke="#2e2eff" stroke-width="2.3" stroke-linecap="round" fill="none" opacity="0.9"/>
<path d="M525.2 623.6L690.0 590.6" stroke="#1212f2" stroke-width="1.4" fill="none"/>
<path d="M518.4 484.3H696.8" stroke="#444" stroke-width="1.1" fill="none"/>
<path d="M696.8 483.8V671.0" stroke="#333" stroke-width="1.1" fill="none"/>
<path d="M544.3 670.5v3M573.9 670.5v3M603.6 670.5v3M633.2 670.5v3M662.9 670.5v3M692.5 670.5v3" stroke="#666" stroke-width="1" fill="none"/>
<path d="M518.4 666.4h-2M518.4 638.3h-2M518.4 610.2h-2M518.4 582.1h-2M518.4 554.0h-2M518.4 525.9h-2M518.4 497.8h-2" stroke="#777" stroke-width="1" fill="none"/>
<path d="M518.4 670.5H697.3" stroke="#666" stroke-width="1.5" fill="none"/>
<path d="M518.4 483.8V671.1" stroke="#333" stroke-width="1.0" fill="none"/>
<text transform="translate(522.2,676.0) scale(1.075,1)" font-size="10.3" text-anchor="end">0.0</text>
<text transform="translate(522.2,647.7) scale(1.075,1)" font-size="10.3" text-anchor="end">0.2</text>
<text transform="translate(522.2,619.5) scale(1.075,1)" font-size="10.3" text-anchor="end">0.4</text>
<text transform="translate(522.2,591.2) scale(1.075,1)" font-size="10.3" text-anchor="end">0.6</text>
<text transform="translate(522.2,562.9) scale(1.075,1)" font-size="10.3" text-anchor="end">0.8</text>
<text transform="translate(522.2,534.7) scale(1.075,1)" font-size="10.3" text-anchor="end">1.0</text>
<text transform="translate(522.2,506.4) scale(1.075,1)" font-size="10.3" text-anchor="end">1.2</text>
<text transform="translate(548.8,688.7) scale(1.075,1)" font-size="10.3" text-anchor="middle">-20</text>
<text transform="translate(575.3,688.7) scale(1.075,1)" font-size="10.3" text-anchor="middle">0</text>
<text transform="translate(606.7,688.7) scale(1.075,1)" font-size="10.3" text-anchor="middle">20</text>
<text transform="translate(636.5,688.7) scale(1.075,1)" font-size="10.3" text-anchor="middle">40</text>
<text transform="translate(666.2,688.7) scale(1.075,1)" font-size="10.3" text-anchor="middle">60</text>
<text transform="translate(696.0,688.7) scale(1.075,1)" font-size="10.3" text-anchor="middle">80</text>
<text transform="translate(558.1,701.0) scale(1.0355,1)" font-size="11.2" text-anchor="start">CT value (HU)</text>
<text transform="translate(483.0,677.2) rotate(-90) scale(1.0292,1)" font-size="11.2" text-anchor="start">Lower limb muscle strength (N/kg<tspan dx="1.3">)</tspan></text>
<text transform="translate(470.6,490.7) scale(1.075,1)" font-size="10.7" text-anchor="start">(h)</text>
<text transform="translate(525.4,499.7) scale(1.075,1)" font-size="11.0" text-anchor="start">r=0.18</text>
<text transform="translate(525.3,513.7) scale(1.075,1)" font-size="11.0" text-anchor="start">p=0.067</text>
<path d="M491.5 519.2V577.8M491.5 620.5V663.5" stroke="#555" stroke-width="1.0" fill="none"/>
<path d="M486.4 577.8H496.8V620.5H486.4ZM486.4 602.3H496.8" stroke="#555" stroke-width="1" fill="#fff"/>
<circle cx="491.6" cy="491.5" r="1.0" fill="#222"/>
<path d="M594.0 707.5H627.3M649.7 707.5H680.8" stroke="#999" stroke-width="1.2" fill="none"/>
<path d="M627.3 701.6H649.7V713.4H627.3ZM642.6 701.6V713.4" stroke="#555" stroke-width="1" fill="#fff"/>
<circle cx="525.5" cy="707.5" r="1.10" fill="#222" opacity="1"/>
<circle cx="578.7" cy="707.5" r="1.10" fill="#222" opacity="1"/>
<circle cx="586.7" cy="707.5" r="1.10" fill="#222" opacity="1"/>
<circle cx="588.8" cy="707.5" r="1.10" fill="#222" opacity="1"/>
<circle cx="591.0" cy="707.5" r="1.21" fill="#222" opacity="1"/>
<circle cx="593.0" cy="707.5" r="1.21" fill="#222" opacity="1"/>
<circle cx="690.0" cy="707.5" r="1.10" fill="#222" opacity="1"/>
</g>
<g id="panel-i">
<path d="M43.6 901.5H218.6M43.6 874.5H218.6M43.6 847.5H218.6M43.6 820.5H218.6M43.6 792.5H218.6M43.6 765.5H218.6M43.6 738.5H218.6M69.5 726.2V905.3M94.5 726.2V905.3M118.5 726.2V905.3M143.5 726.2V905.3M168.5 726.2V905.3M192.5 726.2V905.3" stroke="#e4e4e4" stroke-width="1" fill="none"/>
<path d="M93.5 772.8h0M83.8 775.3h0M50.5 778.9h0M111.7 778.1h0M104.0 783.0h0M95.7 783.8h0M110.0 791.5h0M93.5 794.5h0M96.4 798.5h0M115.1 802.5h0M99.8 803.9h0M98.2 813.6h0M106.7 812.7h0M118.5 817.0h0M86.7 821.4h0M81.1 822.9h0M99.8 820.9h0M102.0 822.2h0M115.1 826.0h0M129.7 768.7h0M129.7 776.7h0M161.6 786.9h0M125.1 794.9h0M139.0 805.1h0M162.2 807.3h0M134.4 812.0h0M135.8 816.1h0M145.8 818.8h0M126.8 820.5h0M123.1 822.9h0M151.1 826.3h0M99.1 829.0h0M109.6 828.4h0M65.4 832.1h0M91.3 831.6h0M115.1 835.5h0M73.1 842.6h0M76.2 842.0h0M104.5 842.6h0M76.0 847.9h0M53.5 852.8h0M113.4 860.7h0M71.1 864.7h0M58.3 879.7h0M105.9 883.6h0M146.7 849.6h0M155.4 848.6h0M178.1 854.2h0M176.4 858.1h0M212.1 857.6h0" stroke="#2e2eff" stroke-width="2.3" stroke-linecap="round" fill="none" opacity="0.9"/>
<path d="M50.1 817.5L212.6 827.0" stroke="#1212f2" stroke-width="1.4" fill="none"/>
<path d="M43.6 726.2H218.6" stroke="#888" stroke-width="2.0" fill="none"/>
<path d="M218.6 725.7V905.8" stroke="#333" stroke-width="1.1" fill="none"/>
<path d="M69.4 905.3v3M94.1 905.3v3M118.8 905.3v3M143.5 905.3v3M168.2 905.3v3M192.9 905.3v3" stroke="#666" stroke-width="1" fill="none"/>
<path d="M43.6 901.3h-2M43.6 874.2h-2M43.6 847.1h-2M43.6 820.0h-2M43.6 792.9h-2M43.6 765.8h-2M43.6 738.7h-2" stroke="#777" stroke-width="1" fill="none"/>
<path d="M43.6 905.3H219.1" stroke="#222" stroke-width="1.2" fill="none"/>
<path d="M43.6 725.7V905.9" stroke="#222" stroke-width="1.1" fill="none"/>
<text transform="translate(46.2,910.0) scale(1.075,1)" font-size="10.0" text-anchor="end">0.0</text>
<text transform="translate(46.2,882.8) scale(1.075,1)" font-size="10.0" text-anchor="end">0.2</text>
<text transform="translate(46.2,855.7) scale(1.075,1)" font-size="10.0" text-anchor="end">0.4</text>
<text transform="translate(46.2,828.5) scale(1.075,1)" font-size="10.0" text-anchor="end">0.6</text>
<text transform="translate(46.2,801.4) scale(1.075,1)" font-size="10.0" text-anchor="end">0.8</text>
<text transform="translate(46.2,774.2) scale(1.075,1)" font-size="10.0" text-anchor="end">1.0</text>
<text transform="translate(46.2,747.1) scale(1.075,1)" font-size="10.0" text-anchor="end">1.2</text>
<text transform="translate(48.1,922.3) scale(1.075,1)" font-size="10.0" text-anchor="middle">4.5</text>
<text transform="translate(97.8,922.3) scale(1.075,1)" font-size="10.0" text-anchor="middle">5.5</text>
<text transform="translate(147.9,922.3) scale(1.075,1)" font-size="10.0" text-anchor="middle">6.5</text>
<text transform="translate(197.3,922.3) scale(1.075,1)" font-size="10.0" text-anchor="middle">7.5</text>
<text transform="translate(49.1,934.6) scale(1.0507,1)" font-size="10.2" text-anchor="start">BIA lower limb muscle mass(kg/m<tspan font-size="6.94" dy="-3.67">2</tspan><tspan dy="3.67">)</tspan></text>
<text transform="translate(9.9,897.0) rotate(-90) scale(1.045,1)" font-size="10.2" text-anchor="start">Lower limb muscle strength (N/kg)</text>
<text transform="translate(32.6,723.1) scale(1.075,1)" font-size="10.7" text-anchor="start">(i)</text>
<text transform="translate(51.4,740.2) scale(1.075,1)" font-size="10.0" text-anchor="start">r=0.0093</text>
<text transform="translate(51.3,753.0) scale(1.075,1)" font-size="10.0" text-anchor="start">p=0.95</text>
<path d="M17.3 759.4V816.6M17.3 857.3V898.4" stroke="#888" stroke-width="1.3" fill="none"/>
<path d="M12.1 816.6H22.5V857.3H12.1ZM12.1 840.1H22.5" stroke="#555" stroke-width="1" fill="#fff"/>
<circle cx="17.3" cy="732.5" r="1.0" fill="#222"/>
<path d="M50.1 941.5H93.8M134.4 941.5H178.6" stroke="#555" stroke-width="1.0" fill="none"/>
<path d="M93.8 935.8H134.4V946.6H93.8ZM110.5 935.8V946.6" stroke="#555" stroke-width="1" fill="#fff"/>
<circle cx="212.1" cy="941.2" r="1.21" fill="#111" opacity="1"/>
</g>
<g id="panel-j">
<path d="M277.5 900.5H452.4M277.5 873.5H452.4M277.5 846.5H452.4M277.5 819.5H452.4M277.5 792.5H452.4M277.5 765.5H452.4M277.5 738.5H452.4M315.5 725.4V905.1M353.5 725.4V905.1M391.5 725.4V905.1M428.5 725.4V905.1" stroke="#e4e4e4" stroke-width="1" fill="none"/>
<path d="M339.2 769.9h0M342.8 794.2h0M312.2 811.5h0M334.6 815.3h0M337.2 816.6h0M340.6 817.5h0M302.3 819.7h0M330.4 819.7h0M343.5 820.9h0M319.0 822.2h0M318.0 826.0h0M338.4 825.1h0M378.7 732.0h0M351.3 758.5h0M426.1 767.9h0M398.2 771.9h0M368.3 774.7h0M375.6 775.8h0M387.0 777.2h0M360.0 778.1h0M405.9 782.1h0M384.9 783.0h0M384.1 785.5h0M427.8 786.0h0M375.9 789.1h0M372.5 790.3h0M380.7 790.8h0M405.9 790.8h0M381.0 793.7h0M394.0 794.0h0M354.9 796.2h0M400.6 797.9h0M369.1 800.2h0M387.8 800.2h0M414.2 801.9h0M370.2 803.4h0M379.8 803.4h0M373.9 805.1h0M434.6 804.4h0M418.4 806.8h0M385.3 807.3h0M387.0 808.1h0M379.0 811.2h0M385.8 812.0h0M392.1 811.2h0M364.2 812.9h0M356.6 815.3h0M382.4 815.8h0M396.3 818.3h0M407.4 819.2h0M350.6 821.4h0M364.0 821.4h0M374.4 820.9h0M383.2 822.2h0M393.4 822.9h0M353.0 823.9h0M355.5 824.8h0M363.4 824.8h0M373.6 825.6h0M395.7 825.6h0M322.2 827.8h0M340.1 830.1h0M291.8 841.1h0M297.8 846.9h0M322.2 844.5h0M326.5 848.2h0M329.5 842.8h0M343.5 848.2h0M338.0 852.2h0M308.8 856.2h0M312.5 859.3h0M340.1 858.8h0M344.0 858.8h0M341.1 861.5h0M338.0 863.9h0M308.8 865.8h0M341.9 865.8h0M338.9 868.1h0M284.8 872.9h0M334.0 875.1h0M326.6 886.8h0M348.4 830.1h0M350.6 834.1h0M364.5 828.4h0M373.9 830.4h0M377.0 832.6h0M399.1 829.0h0M399.1 831.8h0M407.9 828.4h0M405.0 833.5h0M430.0 835.0h0M369.1 838.4h0M360.0 840.6h0M362.0 842.0h0M366.2 841.1h0M369.3 842.0h0M372.2 840.3h0M362.8 844.8h0M373.0 844.8h0M351.3 848.6h0M383.6 849.1h0M392.6 848.2h0M396.3 849.1h0M409.1 847.9h0M413.0 849.1h0M391.2 850.5h0M356.0 852.8h0M384.1 853.0h0M444.4 852.2h0M446.5 853.9h0M345.8 856.2h0M371.3 855.0h0M372.2 856.7h0M356.0 857.6h0M388.0 857.6h0M359.1 859.8h0M375.9 860.1h0M350.1 861.5h0M355.5 861.0h0M354.3 862.4h0M358.3 862.4h0M380.7 868.1h0M346.7 874.6h0M350.1 876.6h0M389.7 876.6h0M351.8 883.9h0M360.8 882.8h0M375.9 885.3h0" stroke="#2e2eff" stroke-width="2.3" stroke-linecap="round" fill="none" opacity="0.9"/>
<path d="M284.2 857.9L446.6 805.2" stroke="#1212f2" stroke-width="1.4" fill="none"/>
<path d="M277.5 725.4H452.4" stroke="#444" stroke-width="1.2" fill="none"/>
<path d="M452.4 724.9V905.6" stroke="#444" stroke-width="1.2" fill="none"/>
<path d="M315.4 905.1v3M353.2 905.1v3M391.0 905.1v3M428.7 905.1v3" stroke="#666" stroke-width="1" fill="none"/>
<path d="M277.5 900.9h-2M277.5 873.8h-2M277.5 846.6h-2M277.5 819.5h-2M277.5 792.3h-2M277.5 765.1h-2M277.5 738.0h-2" stroke="#777" stroke-width="1" fill="none"/>
<path d="M277.5 905.1H452.9" stroke="#888" stroke-width="1.8" fill="none"/>
<path d="M277.5 724.9V905.7" stroke="#222" stroke-width="1.0" fill="none"/>
<text transform="translate(280.6,909.6) scale(1.075,1)" font-size="10.0" text-anchor="end">0.0</text>
<text transform="translate(280.6,882.4) scale(1.075,1)" font-size="10.0" text-anchor="end">0.2</text>
<text transform="translate(280.6,855.2) scale(1.075,1)" font-size="10.0" text-anchor="end">0.4</text>
<text transform="translate(280.6,828.1) scale(1.075,1)" font-size="10.0" text-anchor="end">0.6</text>
<text transform="translate(280.6,800.9) scale(1.075,1)" font-size="10.0" text-anchor="end">0.8</text>
<text transform="translate(280.6,773.7) scale(1.075,1)" font-size="10.0" text-anchor="end">1.0</text>
<text transform="translate(280.6,746.6) scale(1.075,1)" font-size="10.0" text-anchor="end">1.2</text>
<text transform="translate(318.5,921.8) scale(1.075,1)" font-size="10.0" text-anchor="middle">20</text>
<text transform="translate(356.4,921.8) scale(1.075,1)" font-size="10.0" text-anchor="middle">30</text>
<text transform="translate(394.0,921.8) scale(1.075,1)" font-size="10.0" text-anchor="middle">40</text>
<text transform="translate(431.7,921.8) scale(1.075,1)" font-size="10.0" text-anchor="middle">50</text>
<text transform="translate(317.6,933.1) scale(1.056,1)" font-size="10.2" text-anchor="start">Grip strength (kg)</text>
<text transform="translate(245.1,897.3) rotate(-90) scale(1.047,1)" font-size="10.2" text-anchor="start">Lower limb muscle strength (N/kg)</text>
<text transform="translate(256.1,723.3) scale(1.075,1)" font-size="10.7" text-anchor="start">(j)</text>
<text transform="translate(285.3,739.7) scale(1.075,1)" font-size="10.0" text-anchor="start">r=0.36</text>
<text transform="translate(285.2,752.7) scale(1.075,1)" font-size="10.0" text-anchor="start">p<0.001</text>
<path d="M251.5 758.0V815.8M251.5 856.4V897.5" stroke="#555" stroke-width="1.0" fill="none"/>
<path d="M246.8 815.8H256.4V856.4H246.8ZM246.8 839.4H256.4" stroke="#555" stroke-width="1" fill="#fff"/>
<circle cx="251.6" cy="731.6" r="1.0" fill="#222"/>
<path d="M291.8 940.5H345.7M385.5 940.5H446.6" stroke="#555" stroke-width="1.0" fill="none"/>
<path d="M345.7 935.0H385.5V946.0H345.7ZM363.4 935.0V946.0" stroke="#555" stroke-width="1" fill="#fff"/>
<circle cx="284.5" cy="940.5" r="1.10" fill="#333" opacity="1"/>
<circle cx="446.6" cy="940.5" r="0.99" fill="#333" opacity="1"/>
</g>
</svg>
</body></html>
